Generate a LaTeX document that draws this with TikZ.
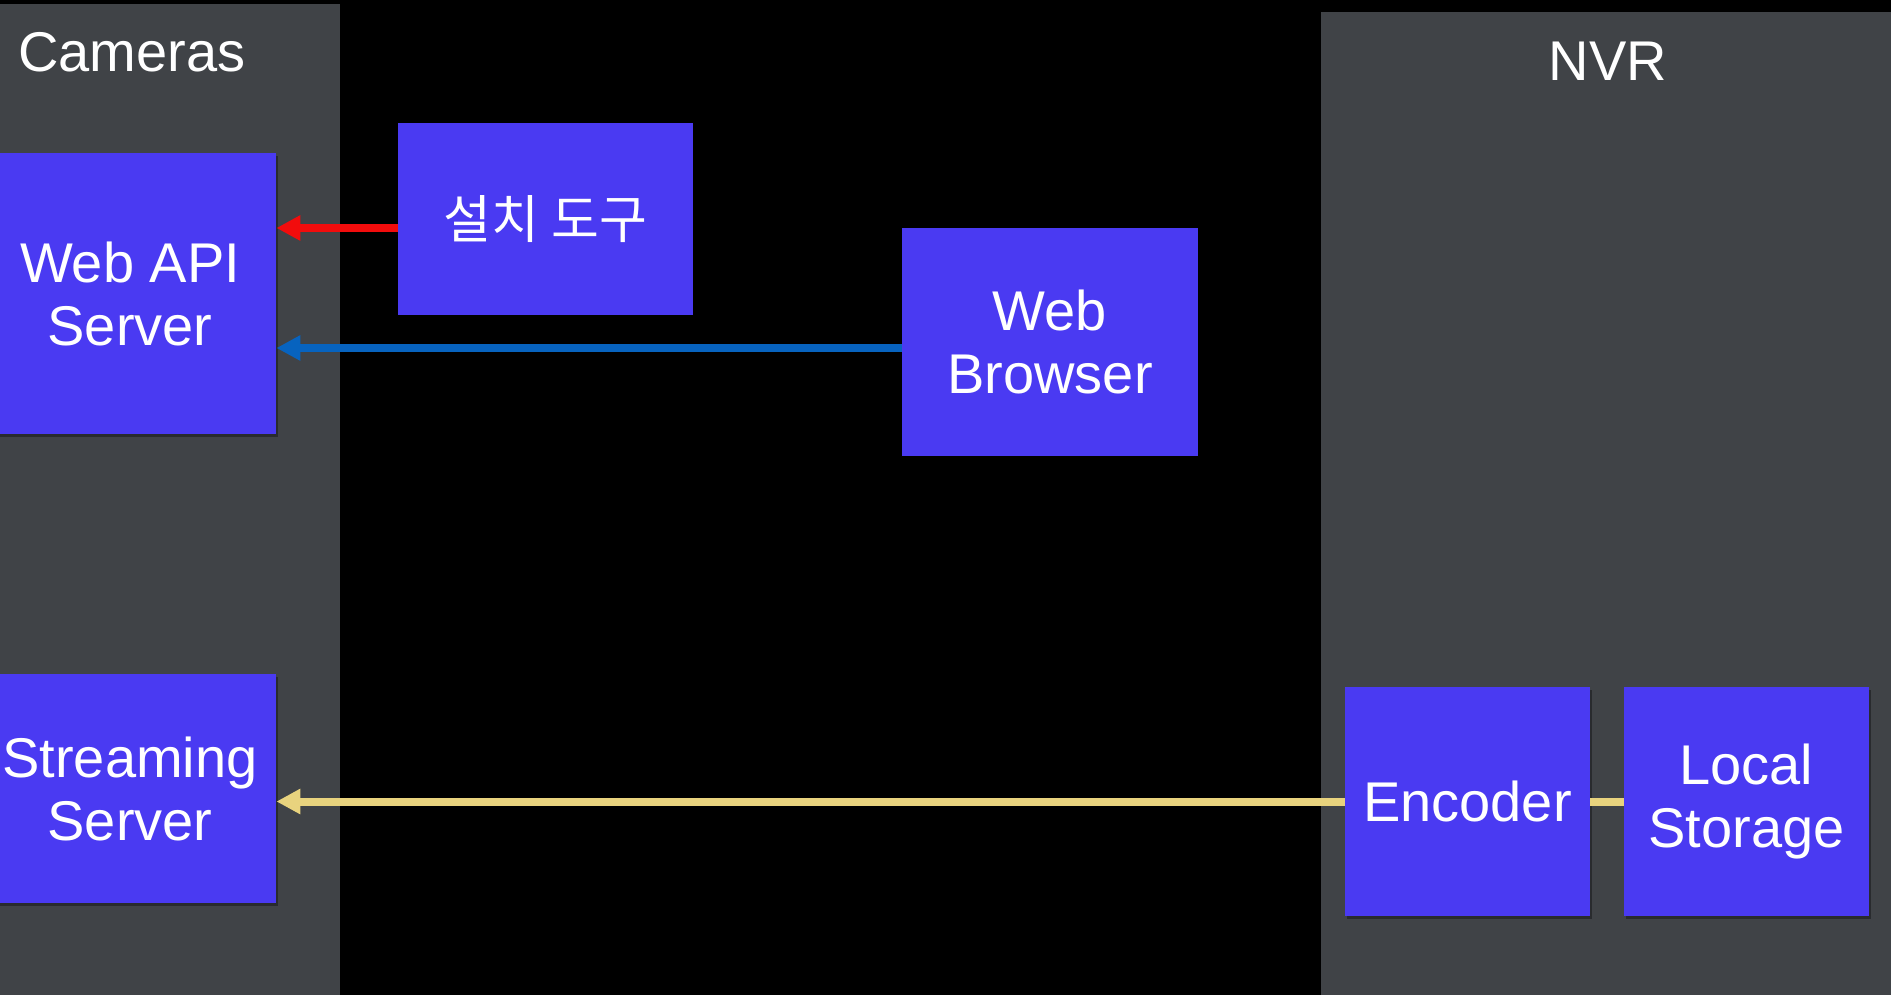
\documentclass[tikz,border=0pt]{standalone}
\usepackage{fontspec}
\setmainfont{Liberation Sans}
\newfontfamily\krfont{Noto Sans CJK KR}
\usetikzlibrary{arrows.meta,shadows}

\definecolor{panelgray}{HTML}{404347}
\definecolor{boxviolet}{HTML}{4A3AF2}
\definecolor{setupred}{HTML}{F20C0C}
\definecolor{browserblue}{HTML}{0763BF}
\definecolor{streamyellow}{HTML}{E8D37E}

\begin{document}
\begin{tikzpicture}[x=0.5pt,y=-0.5pt,
  panel/.style={fill=panelgray, draw=none},
  paneltitle/.style={text=white, inner sep=0pt, font=\fontsize{28}{31.5}\selectfont},
  block/.style={fill=boxviolet, draw=none, text=white, inner sep=0pt,
    align=center, font=\fontsize{28}{31.5}\selectfont,
    drop shadow={shadow xshift=1pt, shadow yshift=-1.5pt, opacity=.35, fill=black}},
  link/.style={line width=4pt},
  flowarrow/.style={link, -{Triangle[length=12pt,width=12pt]}}
]
% canvas
\fill[black] (0,0) rectangle (1891,995);
\useasboundingbox (0,0) rectangle (1891,995);

% groups
\fill[panel] (0,4) rectangle (340,995);
\fill[panel] (1321,12) rectangle (1891,995);
\node[paneltitle, anchor=base west] (camtitle) at (18,72) {Cameras};
\node[paneltitle, anchor=base] (nvrtitle) at (1608,81) {NVR};

% components (the camera-side blocks run past the left edge)
\node[block, minimum width=146pt, minimum height=140.5pt] (webapi) at (130,293.5) {Web API\\Server};
\node[block, minimum width=146pt, minimum height=114.5pt] (streaming) at (130,788.5) {Streaming\\Server};
\node[block, minimum width=147.5pt, minimum height=96pt, font=\krfont\fontsize{26}{30}\selectfont] (tool) at (545.5,219) {설치 도구};
\node[block, minimum width=148pt, minimum height=114pt] (browser) at (1050,342) {Web\\Browser};
\node[block, minimum width=122.5pt, minimum height=114.5pt] (encoder) at (1467.5,801.5) {Encoder};
\node[block, minimum width=122.5pt, minimum height=114.5pt] (storage) at (1746.5,801.5) {Local\\Storage};

% connections
\coordinate (redstart) at ([yshift=-4.5pt]tool.west);
\coordinate (bluestart) at ([yshift=-3pt]browser.west);
\draw[flowarrow, setupred] (redstart) -- (webapi.east |- redstart);
\draw[flowarrow, browserblue] (bluestart) -- (webapi.east |- bluestart);
\draw[flowarrow, streamyellow] (encoder.west) -- (streaming.east |- encoder.west);
\draw[link, streamyellow] (encoder.east) -- (storage.west);
\end{tikzpicture}
\end{document}
